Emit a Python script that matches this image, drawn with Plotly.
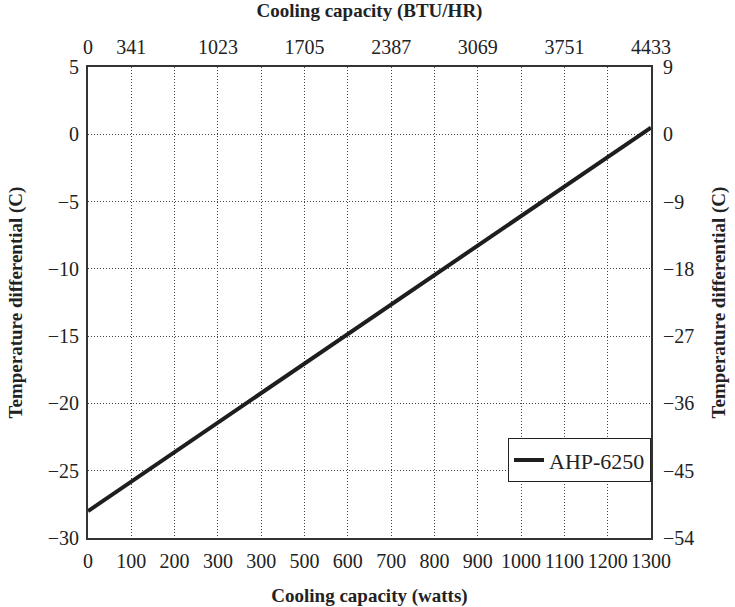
import plotly.graph_objects as go

# Data
watts = [0, 1300]
temp_c = [-28.0, 0.5]
series_name = "AHP-6250"

bottom_tickvals = [0, 100, 200, 300, 400, 500, 600, 700, 800, 900, 1000, 1100, 1200, 1300]
bottom_ticktext = ["0", "100", "200", "300", "300", "500", "600", "700", "800", "900", "1000", "1100", "1200", "1300"]
top_tickvals = [0, 341, 1023, 1705, 2387, 3069, 3751, 4433]
left_tickvals = [5, 0, -5, -10, -15, -20, -25, -30]
right_tickvals = [9, 0, -9, -18, -27, -36, -45, -54]

def minus(v):
    return str(v).replace("-", "\u2212")

FONT = "Liberation Serif"
AX = "#333333"
GRID = "#444444"
DOT = "1px,2px"

fig = go.Figure()
fig.add_trace(go.Scatter(x=watts, y=temp_c, mode="lines", name=series_name,
                         line=dict(color="#1e1e1e", width=4)))
# invisible trace to activate secondary axes
fig.add_trace(go.Scatter(x=[top_tickvals[0], top_tickvals[-1]],
                         y=[right_tickvals[-1], right_tickvals[0]],
                         xaxis="x2", yaxis="y2", mode="markers",
                         marker=dict(opacity=0), showlegend=False, hoverinfo="skip"))

fig.update_layout(
    width=735, height=607,
    margin=dict(l=88, r=84, t=67, b=69),
    paper_bgcolor="white", plot_bgcolor="white",
    font=dict(family=FONT, size=20, color="#222222"),
    showlegend=True,
    legend=dict(x=1, xanchor="right", y=0.212, yanchor="top",
                bordercolor="#222222", borderwidth=1, bgcolor="white",
                font=dict(family=FONT, size=22, color="#222222"),
                itemwidth=30, tracegroupgap=0),
    xaxis=dict(range=[0, 1300], tickvals=bottom_tickvals, ticktext=bottom_ticktext,
               showgrid=True, gridcolor=GRID, griddash=DOT, gridwidth=1,
               showline=True, linecolor=AX, linewidth=2, mirror=False,
               ticks="", zeroline=False, ticklabelstandoff=4, automargin=False,
               title=dict(text="<b>Cooling capacity (watts)</b>",
                          font=dict(family=FONT, size=19), standoff=20)),
    xaxis2=dict(range=[0, 4433], overlaying="x", side="top", tickvals=top_tickvals,
                showgrid=False, showline=True, linecolor=AX, linewidth=2,
                ticks="", zeroline=False, automargin=False, ticklabelstandoff=3,
                title=dict(text="<b>Cooling capacity (BTU/HR)</b>",
                           font=dict(family=FONT, size=19), standoff=13)),
    yaxis=dict(range=[-30, 5], tickvals=left_tickvals,
               ticktext=[minus(v) for v in left_tickvals],
               showgrid=True, gridcolor=GRID, griddash=DOT, gridwidth=1,
               showline=True, linecolor=AX, linewidth=2,
               ticks="", zeroline=False, automargin=False, ticklabelstandoff=3,
               title=dict(text="<b>Temperature differential (C)</b>",
                          font=dict(family=FONT, size=19), standoff=20)),
    yaxis2=dict(range=[-54, 9], overlaying="y", side="right", tickvals=right_tickvals,
                ticktext=[minus(v) for v in right_tickvals],
                showgrid=False, showline=True, linecolor=AX, linewidth=2,
                ticks="", zeroline=False, ticklabelstandoff=6, automargin=False,
                title=dict(text="<b>Temperature differential (C)</b>",
                           font=dict(family=FONT, size=19), standoff=18)),
)

fig.write_html("out.html", config={"displayModeBar": False},
               post_script="document.body.style.margin='0';")
